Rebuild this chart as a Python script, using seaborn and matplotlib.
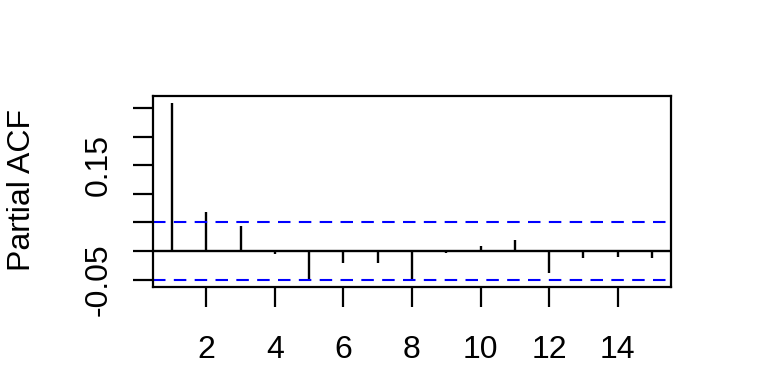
import matplotlib
matplotlib.use("Agg")
import matplotlib.pyplot as plt
import seaborn as sns
import numpy as np
import pandas as pd

lags = [1, 2, 3, 4, 5, 6, 7, 8, 9, 10, 11, 12, 13, 14, 15]
pacf_values = [0.258, 0.068, 0.044, -0.006, -0.052, -0.021, -0.021, -0.050,
               -0.003, 0.008, 0.019, -0.039, -0.013, -0.010, -0.013]
ci_bound = 0.0505
x_ticks = [2, 4, 6, 8, 10, 12, 14]
y_ticks = [-0.05, 0.0, 0.05, 0.10, 0.15, 0.20, 0.25]
y_tick_labels = ["-0.05", "", "", "", "0.15", "", ""]

df = pd.DataFrame({"lag": lags, "pacf": pacf_values})

sns.set_style("white")
plt.rcParams["font.family"] = ["Liberation Sans", "DejaVu Sans"]
plt.rcParams["text.color"] = "black"
plt.rcParams["xtick.color"] = "black"
plt.rcParams["ytick.color"] = "black"

fig = plt.figure(figsize=(7.68, 3.84), dpi=100)
ax = fig.add_axes([153 / 768, 1 - 287 / 384, (671 - 153) / 768, (287 - 96) / 384])

sns.lineplot(x=[0.44, 15.56], y=[0, 0], ax=ax, color="black", linewidth=1.7)
ax.vlines(df["lag"], 0, df["pacf"], color="black", linewidth=1.7)
ax.axhline(ci_bound, color="#0000ff", linewidth=1.5, linestyle=(0, (6, 4)))
ax.axhline(-ci_bound, color="#0000ff", linewidth=1.5, linestyle=(0, (6, 4)))

ax.set_xlim(0.44, 15.56)
ax.set_ylim(-0.0629, 0.271)
ax.set_xticks(x_ticks)
ax.set_xticklabels([str(t) for t in x_ticks])
ax.set_yticks(y_ticks)
ax.set_yticklabels(y_tick_labels, rotation=90, va="center")
ax.set_xlabel("")
ax.set_ylabel("")

for s in ax.spines.values():
    s.set_visible(True)
    s.set_color("black")
    s.set_linewidth(1.6)

ax.tick_params(axis="both", direction="out", length=14.4, width=1.6, color="black",
               labelcolor="black", labelsize=23, left=True, bottom=True)
ax.tick_params(axis="y", pad=14)
ax.tick_params(axis="x", pad=20)
fig.text(22 / 768, 1 - 190 / 384, "Partial ACF", rotation=90, ha="center",
         va="center", fontsize=23, color="black")

fig.savefig("out.png", dpi=100)
